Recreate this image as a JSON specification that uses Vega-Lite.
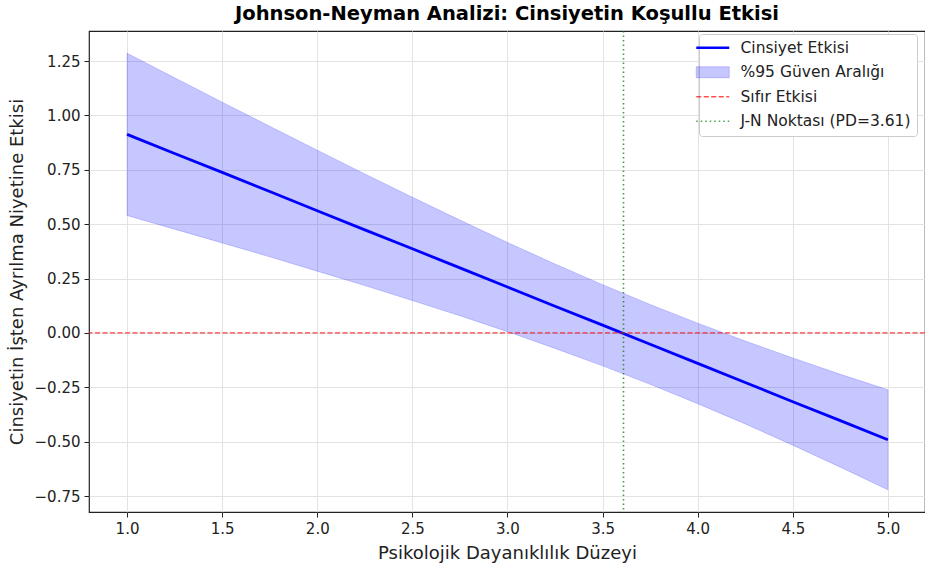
{
  "$schema": "https://vega.github.io/schema/vega-lite/v6.json",
  "width": 836,
  "height": 481,
  "autosize": {"type": "none"},
  "padding": {"left": 89, "top": 31, "right": 0, "bottom": 56},
  "background": "white",
  "title": {
    "text": "Johnson-Neyman Analizi: Cinsiyetin Koşullu Etkisi",
    "font": "DejaVu Sans",
    "fontSize": 19.5,
    "fontWeight": "bold",
    "color": "#000000",
    "anchor": "middle",
    "offset": 6
  },
  "config": {
    "view": {"stroke": "#222222", "strokeWidth": 1.2},
    "axis": {
      "labelFont": "DejaVu Sans",
      "labelFontSize": 15,
      "labelColor": "#222222",
      "titleFont": "DejaVu Sans",
      "titleFontSize": 18,
      "titleFontWeight": "normal",
      "titleColor": "#222222",
      "domain": false,
      "tickColor": "#222222",
      "tickSize": 5,
      "tickWidth": 1,
      "gridColor": "#e3e3e3",
      "gridWidth": 1
    },
    "legend": {
      "orient": "none",
      "legendX": 610,
      "legendY": 3,
      "padding": 6,
      "fillColor": "white",
      "strokeColor": "#cccccc",
      "cornerRadius": 3,
      "labelFont": "DejaVu Sans",
      "labelFontSize": 15.5,
      "labelColor": "#222222",
      "labelLimit": 400,
      "rowPadding": 7.5,
      "symbolSize": 121,
      "labelOffset": 20
    }
  },
  "datasets": {
    "jn": [
      {"pd": 1.0, "effect": 0.913, "upper": 1.286, "lower": 0.540, "series": "Cinsiyet Etkisi", "band": "%95 Güven Aralığı"},
      {"pd": 1.25, "effect": 0.825, "upper": 1.173, "lower": 0.477, "series": "Cinsiyet Etkisi", "band": "%95 Güven Aralığı"},
      {"pd": 1.5, "effect": 0.738, "upper": 1.061, "lower": 0.414, "series": "Cinsiyet Etkisi", "band": "%95 Güven Aralığı"},
      {"pd": 1.75, "effect": 0.650, "upper": 0.950, "lower": 0.350, "series": "Cinsiyet Etkisi", "band": "%95 Güven Aralığı"},
      {"pd": 2.0, "effect": 0.562, "upper": 0.840, "lower": 0.284, "series": "Cinsiyet Etkisi", "band": "%95 Güven Aralığı"},
      {"pd": 2.25, "effect": 0.474, "upper": 0.731, "lower": 0.218, "series": "Cinsiyet Etkisi", "band": "%95 Güven Aralığı"},
      {"pd": 2.5, "effect": 0.387, "upper": 0.624, "lower": 0.149, "series": "Cinsiyet Etkisi", "band": "%95 Güven Aralığı"},
      {"pd": 2.75, "effect": 0.299, "upper": 0.519, "lower": 0.079, "series": "Cinsiyet Etkisi", "band": "%95 Güven Aralığı"},
      {"pd": 3.0, "effect": 0.211, "upper": 0.416, "lower": 0.006, "series": "Cinsiyet Etkisi", "band": "%95 Güven Aralığı"},
      {"pd": 3.25, "effect": 0.123, "upper": 0.317, "lower": -0.071, "series": "Cinsiyet Etkisi", "band": "%95 Güven Aralığı"},
      {"pd": 3.5, "effect": 0.036, "upper": 0.222, "lower": -0.151, "series": "Cinsiyet Etkisi", "band": "%95 Güven Aralığı"},
      {"pd": 3.75, "effect": -0.052, "upper": 0.131, "lower": -0.236, "series": "Cinsiyet Etkisi", "band": "%95 Güven Aralığı"},
      {"pd": 4.0, "effect": -0.140, "upper": 0.045, "lower": -0.325, "series": "Cinsiyet Etkisi", "band": "%95 Güven Aralığı"},
      {"pd": 4.25, "effect": -0.228, "upper": -0.037, "lower": -0.418, "series": "Cinsiyet Etkisi", "band": "%95 Güven Aralığı"},
      {"pd": 4.5, "effect": -0.316, "upper": -0.115, "lower": -0.516, "series": "Cinsiyet Etkisi", "band": "%95 Güven Aralığı"},
      {"pd": 4.75, "effect": -0.403, "upper": -0.190, "lower": -0.617, "series": "Cinsiyet Etkisi", "band": "%95 Güven Aralığı"},
      {"pd": 5.0, "effect": -0.491, "upper": -0.261, "lower": -0.721, "series": "Cinsiyet Etkisi", "band": "%95 Güven Aralığı"}
    ],
    "zero": [{"y": 0, "series": "Sıfır Etkisi"}],
    "jnpoint": [{"x": 3.61, "series": "J-N Noktası (PD=3.61)"}]
  },
  "layer": [
    {
      "data": {"name": "jn"},
      "mark": {"type": "area", "fillOpacity": 0.22, "stroke": "#0000ff", "strokeOpacity": 0.18, "strokeWidth": 1},
      "encoding": {
        "x": {
          "field": "pd", "type": "quantitative",
          "scale": {"domain": [0.8, 5.195], "nice": false, "zero": false},
          "axis": {"values": [1.0, 1.5, 2.0, 2.5, 3.0, 3.5, 4.0, 4.5, 5.0], "format": ".1f", "title": "Psikolojik Dayanıklılık Düzeyi", "titlePadding": 8, "labelPadding": 4}
        },
        "y": {
          "field": "upper", "type": "quantitative",
          "scale": {"domain": [-0.823, 1.388], "nice": false, "zero": false},
          "axis": {"values": [-0.75, -0.5, -0.25, 0, 0.25, 0.5, 0.75, 1.0, 1.25], "format": ".2f", "title": "Cinsiyetin İşten Ayrılma Niyetine Etkisi", "titlePadding": 8, "labelPadding": 4}
        },
        "y2": {"field": "lower"},
        "color": {
          "field": "band", "type": "nominal",
          "scale": {
            "domain": ["Cinsiyet Etkisi", "%95 Güven Aralığı", "Sıfır Etkisi", "J-N Noktası (PD=3.61)"],
            "range": ["#0000ff", "#0000ff", "#ff0000", "#008000"]
          },
          "legend": {
            "title": null,
            "encode": {
              "symbols": {
                "update": {
                  "shape": {"signal": "datum.value === '%95 Güven Aralığı' ? 'M-3,-1H3V1H-3Z' : 'M-3,0H3'"},
                  "fill": {"signal": "datum.value === '%95 Güven Aralığı' ? '#0000ff' : 'transparent'"},
                  "fillOpacity": {"signal": "datum.value === '%95 Güven Aralığı' ? 0.22 : 0"},
                  "stroke": {"signal": "datum.value === 'Cinsiyet Etkisi' ? '#0000ff' : datum.value === '%95 Güven Aralığı' ? '#0000ff' : datum.value === 'Sıfır Etkisi' ? '#ff0000' : '#008000'"},
                  "strokeOpacity": {"signal": "datum.value === 'Cinsiyet Etkisi' ? 1 : datum.value === '%95 Güven Aralığı' ? 0.2 : 0.7"},
                  "strokeDash": {"signal": "datum.value === 'Sıfır Etkisi' ? [5,2.5] : datum.value === 'J-N Noktası (PD=3.61)' ? [1.5,3] : [1,0]"},
                  "strokeWidth": {"signal": "datum.value === 'Cinsiyet Etkisi' ? 2.5 : datum.value === '%95 Güven Aralığı' ? 1 : 1.5"},
                  "size": {"value": 121},
                  "opacity": {"value": 1}
                }
              }
            }
          }
        }
      }
    },
    {
      "data": {"name": "jn"},
      "mark": {"type": "line", "strokeWidth": 2.8},
      "encoding": {
        "x": {"field": "pd", "type": "quantitative"},
        "y": {"field": "effect", "type": "quantitative"},
        "color": {
          "field": "series", "type": "nominal",
          "legend": {
            "title": null,
            "encode": {
              "symbols": {
                "update": {
                  "shape": {"signal": "datum.value === '%95 Güven Aralığı' ? 'M-3,-1H3V1H-3Z' : 'M-3,0H3'"},
                  "fill": {"signal": "datum.value === '%95 Güven Aralığı' ? '#0000ff' : 'transparent'"},
                  "fillOpacity": {"signal": "datum.value === '%95 Güven Aralığı' ? 0.22 : 0"},
                  "stroke": {"signal": "datum.value === 'Cinsiyet Etkisi' ? '#0000ff' : datum.value === '%95 Güven Aralığı' ? '#0000ff' : datum.value === 'Sıfır Etkisi' ? '#ff0000' : '#008000'"},
                  "strokeOpacity": {"signal": "datum.value === 'Cinsiyet Etkisi' ? 1 : datum.value === '%95 Güven Aralığı' ? 0.2 : 0.7"},
                  "strokeDash": {"signal": "datum.value === 'Sıfır Etkisi' ? [5,2.5] : datum.value === 'J-N Noktası (PD=3.61)' ? [1.5,3] : [1,0]"},
                  "strokeWidth": {"signal": "datum.value === 'Cinsiyet Etkisi' ? 2.5 : datum.value === '%95 Güven Aralığı' ? 1 : 1.5"},
                  "size": {"value": 121},
                  "opacity": {"value": 1}
                }
              }
            }
          }
        }
      }
    },
    {
      "data": {"name": "zero"},
      "mark": {"type": "rule", "strokeDash": [5, 2.5], "strokeWidth": 1.3, "opacity": 0.75},
      "encoding": {
        "y": {"field": "y", "type": "quantitative"},
        "color": {"field": "series", "type": "nominal", "legend": null}
      }
    },
    {
      "data": {"name": "jnpoint"},
      "mark": {"type": "rule", "strokeDash": [1.5, 3], "strokeWidth": 1.6, "opacity": 0.75},
      "encoding": {
        "x": {"field": "x", "type": "quantitative"},
        "color": {"field": "series", "type": "nominal", "legend": null}
      }
    }
  ]
}
